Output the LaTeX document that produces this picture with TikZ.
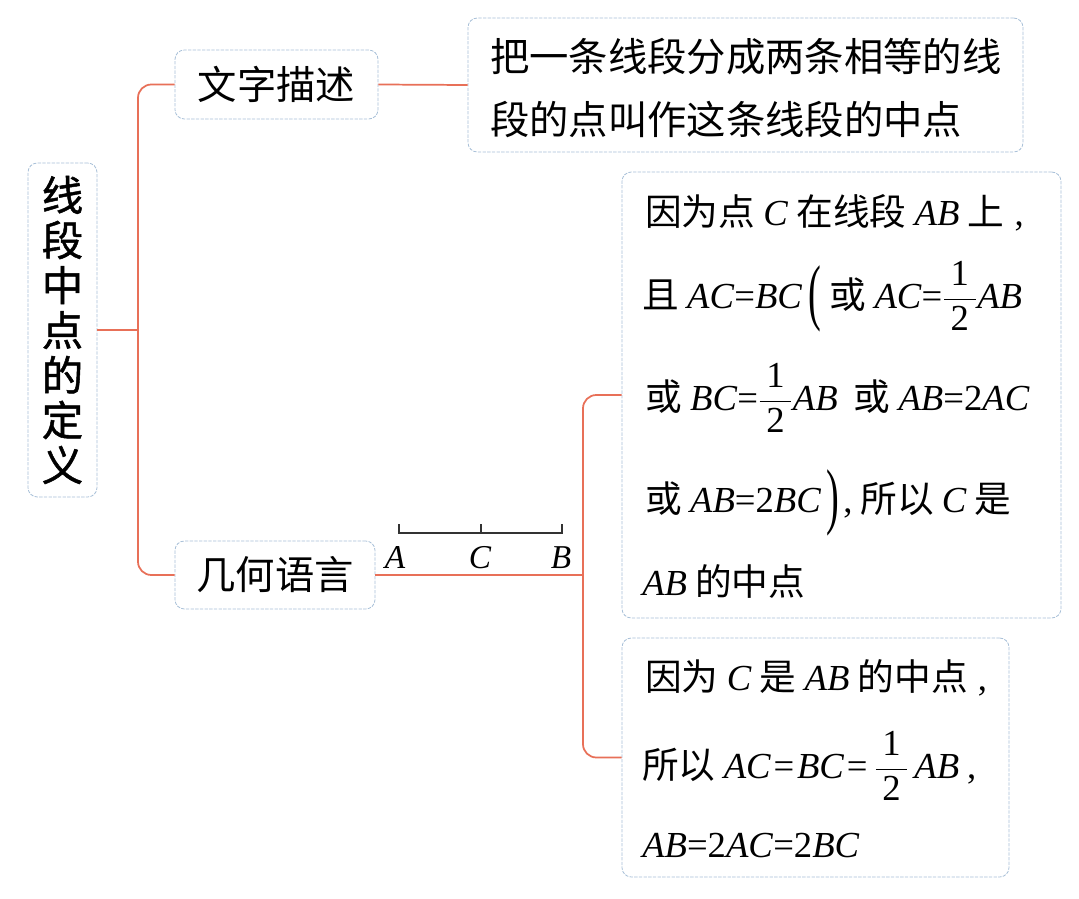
\documentclass[tikz,border=0pt]{standalone}
\usepackage{amsmath}
\usepackage{fontspec}
\setmainfont{Liberation Serif}
\newfontfamily\cjk{Noto Sans CJK SC}
\newfontfamily\cjkm[FakeBold=1.2]{Noto Sans CJK SC}
\newcommand\mt[1]{{\rmfamily\itshape #1\/}}
\newcommand\ru[1]{{\rmfamily #1}}
\newcommand\half{$\dfrac{\textrm{\hspace{5pt}1\hspace{5pt}}}{\textrm{\hspace{5pt}2\hspace{5pt}}}$}
\newcommand\lpar{\raisebox{-6pt}{\scalebox{1.15}[2.2]{\rmfamily\fontsize{25}{30}\selectfont (}}}
\newcommand\rpar{\raisebox{-6pt}{\scalebox{1.15}[2.2]{\rmfamily\fontsize{25}{30}\selectfont )}}}
\newcommand\gap{\hspace{12pt}}
\definecolor{conncol}{RGB}{232,112,88}
\definecolor{boxcol}{RGB}{168,192,216}
\begin{document}
\begin{tikzpicture}[x=0.75pt,y=-0.75pt,
  box/.style={draw=boxcol, line width=0.6pt, dash pattern=on 2.5pt off 1pt, rounded corners=7pt, fill=white, inner sep=0pt},
  conn/.style={draw=conncol, line width=1.3pt},
  seg/.style={draw=black!80, line width=0.8pt},
  lab/.style={font=\cjk\fontsize{29.5}{34}\selectfont},
  body/.style={font=\cjk\fontsize{27.5}{32}\selectfont, anchor=base west, inner sep=0pt},
  seglab/.style={font=\rmfamily\itshape\fontsize{25}{28}\selectfont, inner sep=0pt, anchor=base},
]
\useasboundingbox[fill=white] (0,0) rectangle (1079,899);

% boxes
\node[box, minimum width=51.75pt, minimum height=250.5pt, align=center,
      font=\cjkm\fontsize{31}{33.75}\selectfont] (root) at (62.5,330)
      {线\\段\\中\\点\\的\\定\\义};
\node[box, lab, minimum width=152.25pt, minimum height=51.75pt] (wz) at (276.5,84.5) {文字描述};
\node[box, lab, minimum width=150pt, minimum height=51pt] (jh) at (275,575) {几何语言};
\node[box, minimum width=416.25pt, minimum height=100.5pt] (b2) at (745.5,85) {};
\node[box, minimum width=329.25pt, minimum height=334.5pt] (b3) at (841.5,395) {};
\node[box, minimum width=290.25pt, minimum height=179.25pt] (b4) at (815.5,757.5) {};

% connectors
\coordinate (t1) at (138,330);
\coordinate (t2) at (583,575);
\draw[conn] (root.east) -- (t1);
\draw[conn, rounded corners=10pt] (wz.west) -| (t1) |- (jh.west);
\draw[conn] (wz.east) -- (b2.west);
\draw[conn] (jh.east) -- (t2);
\draw[conn, rounded corners=10pt] (b3.west) -| (t2) |- (b4.west);

% segment figure
\coordinate (sA) at (399,533);
\coordinate (sC) at (481,533);
\coordinate (sB) at (562,533);
\draw[seg] ([yshift=6.75pt]sA) -- (sA) -- (sB) -- ([yshift=6.75pt]sB);
\draw[seg] (sC) -- ([yshift=6.75pt]sC);
\node[seglab] (lA) at (395,568) {A};
\node[seglab] (lC) at (480,568) {C};
\node[seglab] (lB) at (561,568) {B};

% box 2 text
\node[lab, anchor=west, inner sep=0pt] (t2a) at (490,57) {把一条线段分成两条相等的线};
\node[lab, anchor=west, inner sep=0pt] (t2b) at (490,120) {段的点叫作这条线段的中点};

% box 3 text
\node[body] (b3l1) at (645,225) {因为点 \mt{C} 在线段 \mt{AB} 上\ru{\;,}};
\node[body] (b3l2) at (642,308) {且 \mt{AC}\ru{=}\mt{BC}\hspace{5pt}\lpar\hspace{6pt}或 \mt{AC}\ru{=}\half\mt{AB}};
\node[body] (b3l3) at (645,410) {或 \mt{BC}\ru{=}\half\mt{AB}\gap 或 \mt{AB}\ru{=2}\mt{AC}};
\node[body] (b3l4) at (645,512) {或 \mt{AB}\ru{=2}\mt{BC}\hspace{4pt}\rpar\ru{\hspace{3pt},}\hspace{6pt}所以 \mt{C} 是};
\node[body] (b3l5) at (642,595) {\mt{AB} 的中点};

% box 4 text
\node[body] (b4l1) at (645,690) {因为 \mt{C} 是 \mt{AB} 的中点\ru{\;,}};
\node[body] (b4l2) at (642,778) {所以 \mt{AC}\ru{\hspace{2pt}=\hspace{2pt}}\mt{BC}\ru{\hspace{2pt}=}\hspace{5pt}\half\hspace{4pt}\mt{AB}\ru{\hspace{6pt},}};
\node[body] (b4l3) at (642,857) {\mt{AB}\ru{=2}\mt{AC}\ru{=2}\mt{BC}};
\end{tikzpicture}
\end{document}
